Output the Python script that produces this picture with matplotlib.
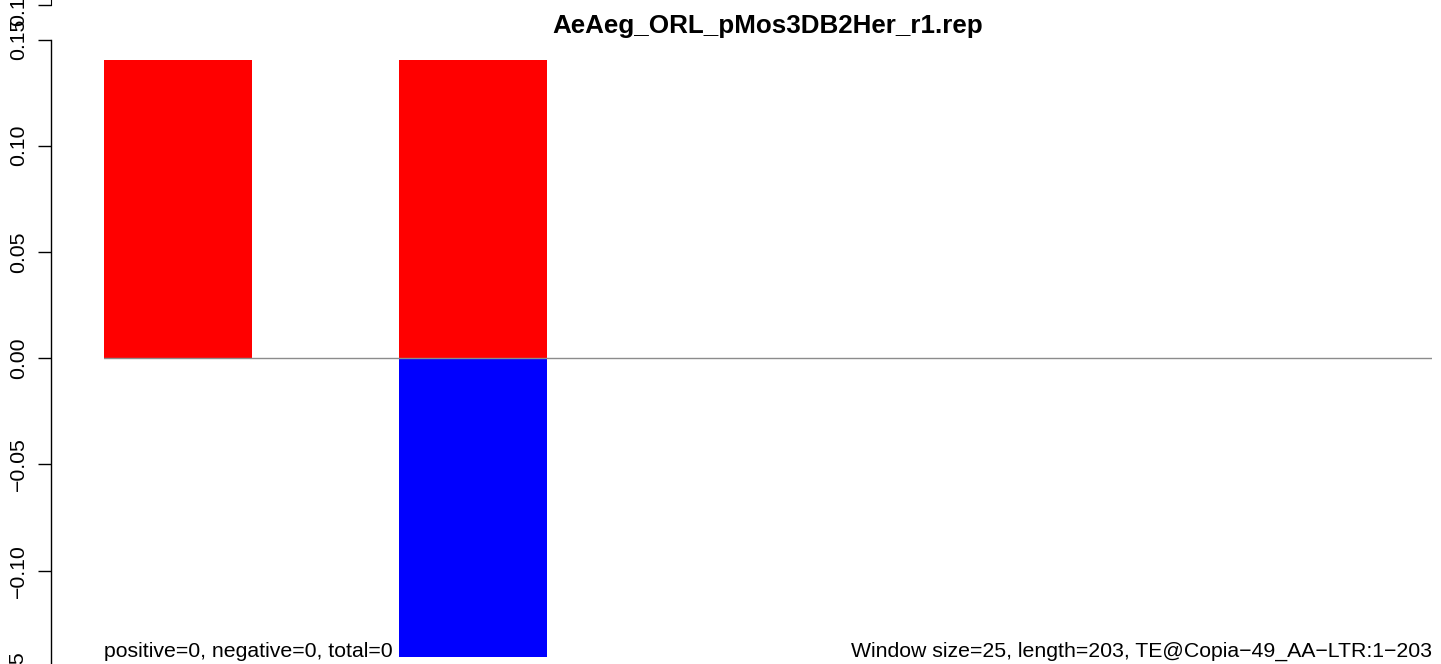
import numpy as np
import matplotlib
matplotlib.use("Agg")
import matplotlib.pyplot as plt

plt.rcParams["font.family"] = ["Liberation Sans", "DejaVu Sans"]

# one bar slot per window along the TE
windows = [1, 2, 3, 4, 5]
pos_vals = [0.1405, 0.1405, 0.0, 0.0, 0.0]
neg_vals = [0.0, -0.1405, 0.0, 0.0, 0.0]

yticks = [-0.15, -0.10, -0.05, 0.00, 0.05, 0.10, 0.15]
ytick_labels = ["\u22120.15", "\u22120.10", "\u22120.05", "0.00", "0.05", "0.10", "0.15"]

title = "AeAeg_ORL_pMos3DB2Her_r1.rep"
left_note = "positive=0, negative=0, total=0"
right_note = "Window size=25, length=203, TE@Copia\u221249_AA\u2212LTR:1\u2212203"

W, H = 1441, 664
YLIM = (-0.1439, 0.1686)
fig = plt.figure(figsize=(W / 100, H / 100), dpi=100)
rect = [104 / W, 0, (1432 - 104) / W, 1]
ax = fig.add_axes(rect)

x = np.arange(len(windows)) * 2
ax.bar(x, pos_vals, width=1, align="edge", color="#ff0000", linewidth=0)
ax.bar(x, neg_vals, width=1, align="edge", color="#0000ff", linewidth=0)
ax.axhline(0, color="#8c8c8c", linewidth=1, zorder=3)

for side in ["top", "right", "bottom"]:
    ax.spines[side].set_visible(False)
ax.spines["left"].set_position(("outward", 38.4))
ax.spines["left"].set_bounds(-0.15, 0.15)
ax.spines["left"].set_linewidth(1)
ax.set_xticks([])
ax.set_yticks(yticks)
ax.set_yticklabels(ytick_labels, rotation=90, va="center")
ax.tick_params(axis="y", length=9.5, width=1, pad=7, labelsize=15.3)
ax.set_xlim(0, 2 * len(windows) - 1)
ax.set_ylim(*YLIM)

# the lowest tick sits just below the picture; matplotlib skips labels out of
# view, so put its (mostly cut off) label in by hand
ax.annotate(ytick_labels[0], xy=(0, yticks[0]), xycoords=("axes fraction", "data"),
            xytext=(-62.6, 0), textcoords="offset points", rotation=90,
            ha="center", va="center", fontsize=15.3, annotation_clip=False)

# stray axis piece poking in at the top edge
ax2 = fig.add_axes(rect)
ax2.patch.set_visible(False)
for side in ["top", "right", "bottom"]:
    ax2.spines[side].set_visible(False)
ax2.spines["left"].set_position(("outward", 38.4))
ax2.spines["left"].set_bounds(0.1662, 0.2)
ax2.set_xticks([])
ax2.set_yticks([0.1662])
ax2.set_yticklabels(["0.15"], rotation=90, va="center")
ax2.tick_params(axis="y", length=9.5, width=1, pad=7, labelsize=15.3)
ax2.set_ylim(*YLIM)

ax.text(0.5, (H - 33) / H, title, transform=ax.transAxes, ha="center",
        va="baseline", fontsize=18.7, fontweight="bold")
ax.text(0, (H - 657) / H, left_note, transform=ax.transAxes, ha="left",
        va="baseline", fontsize=15.3)
ax.text(1, (H - 657) / H, right_note, transform=ax.transAxes, ha="right",
        va="baseline", fontsize=15.3)

fig.savefig("out.png", dpi=100)
